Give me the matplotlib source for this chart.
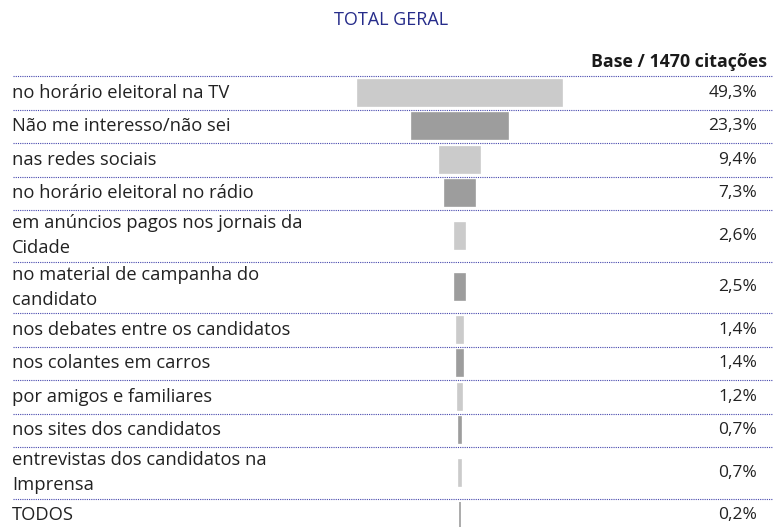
import matplotlib
matplotlib.use("Agg")
import matplotlib.pyplot as plt
import matplotlib.transforms as mtransforms
import numpy as np

title = "TOTAL GERAL"
header = "Base / 1470 citações"
categories = [
    "no horário eleitoral na TV",
    "Não me interesso/não sei",
    "nas redes sociais",
    "no horário eleitoral no rádio",
    "em anúncios pagos nos jornais da\nCidade",
    "no material de campanha do\ncandidato",
    "nos debates entre os candidatos",
    "nos colantes em carros",
    "por amigos e familiares",
    "nos sites dos candidatos",
    "entrevistas dos candidatos na\nImprensa",
    "TODOS",
]
values = [49.3, 23.3, 9.4, 7.3, 2.6, 2.5, 1.4, 1.4, 1.2, 0.7, 0.7, 0.2]

W, H = 773, 527
FONT = ["Open Sans", "DejaVu Sans"]
plt.rcParams["font.family"] = FONT

fig = plt.figure(figsize=(W / 100, H / 100), dpi=100)
ax = fig.add_axes([0, 0, 1, 1])
ax.set_axis_off()

px_per_pct = 4.15
center_px = 460
ax.set_xlim(-center_px / px_per_pct, (W - center_px) / px_per_pct)
ax.set_ylim(H, 0)

trans = mtransforms.blended_transform_factory(ax.transAxes, ax.transData)

top = 76.0
single_h, double_h = 33.5, 51.5
heights = [double_h if "\n" in c else single_h for c in categories]
edges = top + np.concatenate([[0], np.cumsum(heights)])
centers = (edges[:-1] + edges[1:]) / 2

colors = ["#cbcbcb" if i % 2 == 0 else "#9d9d9d" for i in range(len(values))]
vals = np.array(values)
ax.barh(centers, vals, left=-vals / 2, height=26, color=colors,
        edgecolor=colors, linewidth=1.2)

line_color = "#4547ad"
for y in edges[:-1]:
    ax.plot([13 / W, 1.0], [y, y], transform=trans, color=line_color,
            linewidth=0.8, linestyle=(0, (1, 1)), solid_capstyle="butt")

for c, y, v in zip(categories, centers, values):
    ax.text(12 / W, y, c, transform=trans, ha="left", va="center",
            fontsize=13.2, color="#222222", linespacing=1.48)
    ax.text(757 / W, y, f"{v:.1f}%".replace(".", ","), transform=trans,
            ha="right", va="center", fontsize=12.5, color="#222222")

ax.text(391 / W, 20, title, transform=trans, ha="center", va="center",
        fontsize=13, color="#262c8a")
ax.text(767 / W, 62, header, transform=trans, ha="right", va="center",
        fontsize=12.8, fontweight="bold", color="#1a1a1a")

fig.savefig("out.png", dpi=100)
